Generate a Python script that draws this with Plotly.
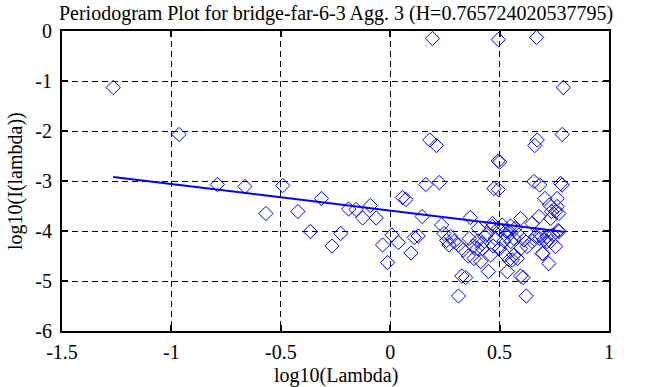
import plotly.graph_objects as go
import numpy as np

title_text = "Periodogram Plot for bridge-far-6-3 Agg. 3 (H=0.765724020537795)"
x_label = "log10(Lambda)"
y_label = "log10(I(lambda))"
x_ticks = [-1.5, -1, -0.5, 0, 0.5, 1]
x_tick_text = ["-1.5", "-1", "-0.5", "0", "0.5", "1"]
y_ticks = [-6, -5, -4, -3, -2, -1, 0]
y_tick_text = ["-6", "-5", "-4", "-3", "-2", "-1", "0"]

log_lambda = [
    -1.266, -0.965, -0.790, -0.664, -0.491, -0.568, -0.422, -0.314, -0.365, -0.226,
    -0.266, -0.190, -0.156, -0.126, -0.091, -0.064, -0.035, -0.012, 0.008, 0.037,
    0.056, 0.072, 0.095, 0.110, 0.128, 0.146, 0.163, 0.224, 0.235, 0.181,
    0.211, 0.193,
    0.246, 0.276, 0.292, 0.312, 0.269, 0.258, 0.334, 0.357, 0.327, 0.345,
    0.312, 0.366, 0.403, 0.433, 0.444, 0.459, 0.398, 0.421, 0.383, 0.414,
    0.449, 0.467,
    0.494, 0.494, 0.500, 0.474, 0.494, 0.494, 0.512, 0.535, 0.543, 0.551,
    0.566, 0.525, 0.543, 0.535, 0.558, 0.566, 0.581, 0.596, 0.596, 0.588,
    0.611, 0.626, 0.649, 0.649, 0.665, 0.680, 0.683, 0.702, 0.717, 0.698,
    0.725, 0.596, 0.607, 0.622,
    0.669, 0.791, 0.786, 0.672, 0.661, 0.657, 0.683, 0.707, 0.728, 0.763,
    0.779, 0.786, 0.737, 0.756, 0.771, 0.733, 0.763, 0.771, 0.743, 0.756,
    0.733, 0.768, 0.717, 0.687, 0.695,
    0.467, 0.361, 0.400, 0.380, 0.420, 0.470, 0.480, 0.500, 0.520, 0.530,
    0.550, 0.570,
]
log_periodogram = [
    -1.13, -2.07, -3.07, -3.11, -3.09, -3.65, -3.61, -3.35, -4.01, -4.05,
    -4.30, -3.56, -3.57, -3.74, -3.49, -3.74, -4.28, -4.63, -4.08, -4.23,
    -3.33, -3.37, -4.44, -4.13, -4.10, -3.71, -3.07, -3.03, -3.88, -2.18,
    -2.29, -0.15,
    -4.05, -4.11, -4.21, -4.28, -4.28, -4.19, -4.38, -4.50, -4.90, -4.93,
    -5.30, -3.73, -3.95, -4.11, -4.05, -4.48, -4.35, -4.35, -4.55, -4.61,
    -4.81, -3.91,
    -0.17, -2.60, -2.62, -3.15, -3.17, -3.95, -3.88, -4.11, -4.01, -4.21,
    -4.15, -4.48, -4.58, -4.81, -4.58, -4.48, -4.55, -3.75, -4.35, -4.08,
    -4.18, -4.31, -4.21, -3.85, -4.11, -3.71, -4.15, -4.18, -4.21, -4.45,
    -4.65, -4.90, -4.93, -5.30,
    -0.13, -1.13, -2.07, -2.18, -2.29, -3.01, -3.08, -3.35, -3.48, -3.35,
    -3.05, -3.08, -3.61, -3.61, -3.65, -3.75, -3.51, -4.01, -4.08, -4.31,
    -4.21, -3.99, -4.11, -4.08, -4.45,
    -3.85, -4.15, -4.20, -4.30, -4.25, -4.30, -4.15, -4.35, -4.20, -4.00,
    -3.90, -3.95,
]

fit_slope = 1 - 2 * 0.765724020537795
fit_intercept = -3.593

fit_x = np.array([min(log_lambda), max(log_lambda)])
fit_y = fit_intercept + fit_slope * fit_x

blue = "#0000ff"
font_family = "Liberation Serif, Times New Roman, serif"
fsize = 20

fig = go.Figure()
fig.add_trace(go.Scatter(
    x=log_lambda, y=log_periodogram, mode="markers",
    marker=dict(symbol="diamond-open", size=11, color=blue, line=dict(width=1, color=blue)),
    showlegend=False, hoverinfo="skip",
))
fig.add_trace(go.Scatter(
    x=fit_x, y=fit_y, mode="lines",
    line=dict(color=blue, width=2),
    showlegend=False, hoverinfo="skip",
))

axis_common = dict(
    showline=True, mirror="ticks", linecolor="black", linewidth=2,
    ticks="inside", ticklen=6, tickwidth=2, tickcolor="black",
    showgrid=True, gridcolor="black", gridwidth=1, griddash="6px,4px",
    zeroline=False, automargin=False,
    tickfont=dict(family=font_family, size=fsize, color="black"),
)

fig.update_xaxes(range=[-1.5, 1], tickvals=x_ticks, ticktext=x_tick_text,
                 ticklabelstandoff=2, **axis_common)
fig.update_yaxes(range=[-6, 0], tickvals=y_ticks, ticktext=y_tick_text,
                 ticklabelstandoff=4, **axis_common)

fig.update_layout(
    width=663, height=387,
    margin=dict(l=62, r=54, t=31, b=56),
    plot_bgcolor="white", paper_bgcolor="white",
    title=dict(text=title_text, x=336 / 663, xanchor="center", y=1 - 13 / 387, yanchor="middle",
               yref="container", font=dict(family=font_family, size=fsize, color="black")),
    annotations=[
        dict(text=x_label, xref="paper", yref="paper", x=0.5, y=-44 / 300, xanchor="center",
             yanchor="middle", showarrow=False,
             font=dict(family=font_family, size=fsize, color="black")),
        dict(text=y_label, xref="paper", yref="paper", x=-47 / 547, y=0.5, xanchor="center",
             yanchor="middle", showarrow=False, textangle=-90,
             font=dict(family=font_family, size=fsize, color="black")),
    ],
)

fig.write_html(
    "out.html",
    config={"displayModeBar": False},
    post_script="document.body.style.margin='0';document.body.style.overflow='hidden';",
)
